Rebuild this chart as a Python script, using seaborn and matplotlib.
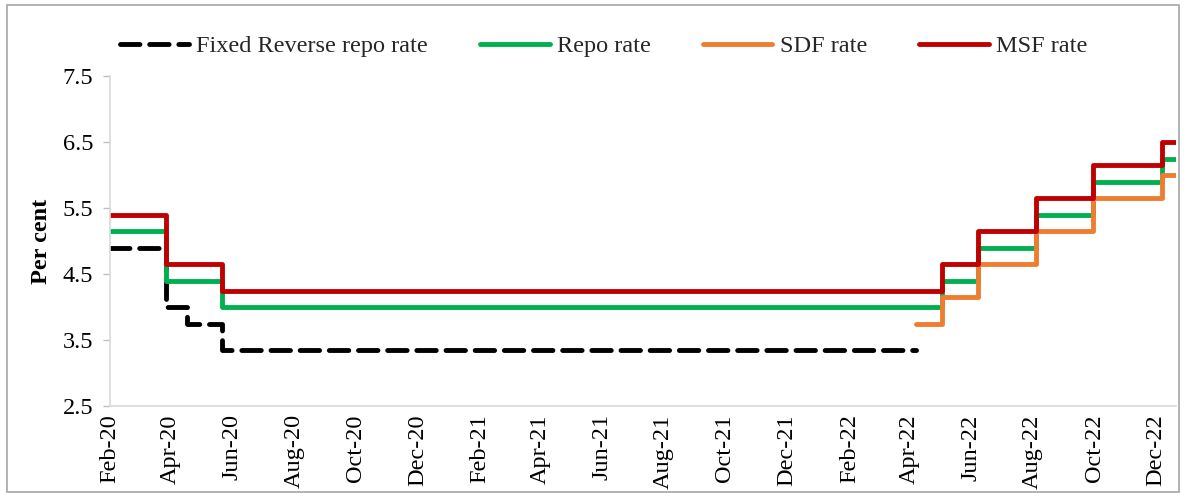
import matplotlib
matplotlib.use("Agg")
import matplotlib.pyplot as plt
import matplotlib.dates as mdates
from matplotlib.patches import Rectangle
import seaborn as sns
import pandas as pd

# ---- data (policy rate change points, per cent) ----
rev_repo_dates = ["2020-02-01", "2020-03-27", "2020-04-17", "2020-05-22", "2022-04-08"]
rev_repo_vals = [4.90, 4.00, 3.75, 3.35, 3.35]

repo_dates = ["2020-02-01", "2020-03-27", "2020-05-22", "2022-05-04", "2022-06-08",
              "2022-08-05", "2022-09-30", "2022-12-07", "2022-12-21"]
repo_vals = [5.15, 4.40, 4.00, 4.40, 4.90, 5.40, 5.90, 6.25, 6.25]

sdf_dates = ["2022-04-08", "2022-05-04", "2022-06-08", "2022-08-05", "2022-09-30",
             "2022-12-07", "2022-12-21"]
sdf_vals = [3.75, 4.15, 4.65, 5.15, 5.65, 6.00, 6.00]

msf_dates = ["2020-02-01", "2020-03-27", "2020-05-22", "2022-05-04", "2022-06-08",
             "2022-08-05", "2022-09-30", "2022-12-07", "2022-12-21"]
msf_vals = [5.40, 4.65, 4.25, 4.65, 5.15, 5.65, 6.15, 6.50, 6.50]

series_names = ["Fixed Reverse repo rate", "Repo rate", "SDF rate", "MSF rate"]
y_ticks = [2.5, 3.5, 4.5, 5.5, 6.5, 7.5]

sns.set_theme(style="white")
plt.rcParams["font.family"] = ["Liberation Serif", "DejaVu Serif"]
FS = 17.5

fig = plt.figure(figsize=(11.86, 4.98), dpi=100)
ax = fig.add_axes([0.0927, 0.1847, 0.8989, 0.6627])

specs = [
    (rev_repo_dates, rev_repo_vals, series_names[0], "black", (0, (4.0, 2.0))),
    (repo_dates, repo_vals, series_names[1], "#00B050", "-"),
    (sdf_dates, sdf_vals, series_names[2], "#ED7D31", "-"),
    (msf_dates, msf_vals, series_names[3], "#C00000", "-"),
]
for dates, vals, name, color, ls in specs:
    df = pd.DataFrame({"date": pd.to_datetime(dates), "value": vals})
    sns.lineplot(data=df, x="date", y="value", ax=ax, color=color, linewidth=3.5,
                 linestyle=ls, drawstyle="steps-post", label=name,
                 solid_capstyle="round", dash_capstyle="round")

ax.set_xlim(pd.Timestamp("2020-02-01"), pd.Timestamp("2022-12-21"))
ax.set_ylim(2.5, 7.5)
ax.set_yticks(y_ticks)
ax.set_yticklabels([f"{v:.1f}" for v in y_ticks])
ax.xaxis.set_major_locator(mdates.MonthLocator(bymonth=[2, 4, 6, 8, 10, 12]))
ax.xaxis.set_major_formatter(mdates.DateFormatter("%b-%y"))
ax.tick_params(axis="x", labelrotation=90, labelsize=FS, length=0, pad=6)
ax.tick_params(axis="y", labelsize=FS, length=5, width=1, color="#BFBFBF",
               direction="out", left=True, pad=7)
for lab in ax.get_xticklabels():
    lab.set_color("black")
for lab in ax.get_yticklabels():
    lab.set_color("black")
ax.set_xlabel("")
ax.set_ylabel("Per cent", fontsize=FS, fontweight="bold", color="black", labelpad=8)

for side in ["top", "right"]:
    ax.spines[side].set_visible(False)
for side in ["left", "bottom"]:
    ax.spines[side].set_color("#D9D9D9")
    ax.spines[side].set_linewidth(1.2)

ax.get_legend().remove()
handles, labels = ax.get_legend_handles_labels()
fig.legend(handles, labels, loc="center left", bbox_to_anchor=(0.101, 0.907),
           ncol=4, frameon=False, fontsize=FS, handlelength=2.85,
           handletextpad=0.3, columnspacing=2.15, borderpad=0, borderaxespad=0)

fig.patches.append(Rectangle((0.006, 0.012), 0.988, 0.978, transform=fig.transFigure,
                             fill=False, edgecolor="#A6A6A6", linewidth=1.2))

fig.savefig("out.png", dpi=100)
